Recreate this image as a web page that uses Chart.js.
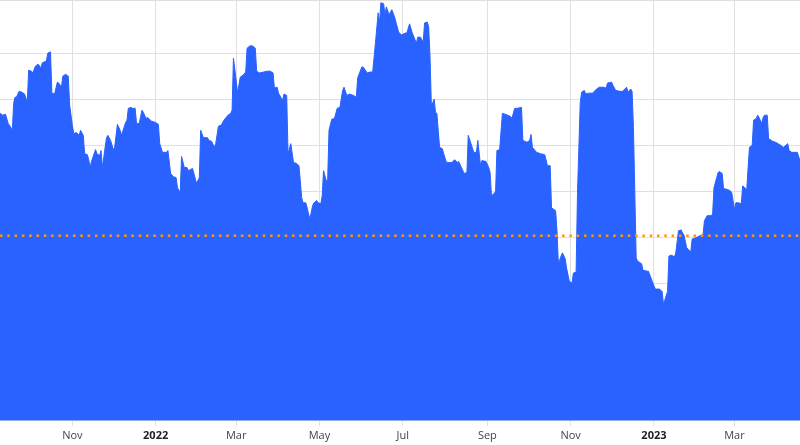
<!DOCTYPE html>
<html>
<head>
<meta charset="utf-8">
<title>Price area chart</title>
<script src="https://cdn.jsdelivr.net/npm/chart.js@4"></script>
<style>
  html, body { margin: 0; padding: 0; background: #ffffff; }
  #chart { display: block; }
</style>
</head>
<body>
<canvas id="chart" width="800" height="445"></canvas>
<script>
/* ── data ─────────────────────────────────────── */
// days counted from startDate (2021-09-09)
var startDate = Date.UTC(2021, 8, 9);
var lastDay = 586;

var days = [
  0, 2, 4, 6, 8, 9, 10, 11, 12, 14, 16, 18, 20, 21, 23, 24, 26, 28, 30, 31,
  34, 35, 37, 38, 40, 42, 43, 45, 46, 48, 50, 51, 53, 54, 56, 58, 59, 61, 62, 64,
  65, 66, 67, 70, 71, 73, 74, 75, 78, 79, 81, 83, 84, 86, 88, 89, 92, 93, 94, 96,
  97, 99,
  100, 102, 104, 105, 107, 108, 111, 114, 116, 117, 119, 122, 123, 125, 127, 129, 130, 132,
  133, 135, 137, 138, 141, 142, 144, 146, 147, 149, 152, 153, 155, 157, 158, 160, 162, 164,
  167, 169, 170, 171, 173, 174, 176, 178, 180, 181, 183, 185, 187, 188, 190, 193, 196,
  198, 200, 201, 203, 204, 207, 208, 210, 211, 213, 215, 217, 219, 221, 222, 224, 225, 226,
  227, 229, 230, 232, 233, 235, 236, 237, 239, 240, 241, 243, 245, 247, 249, 251, 252, 254,
  256, 259, 261, 262, 265, 266, 269, 271, 273, 275, 277, 278, 279, 281, 282, 283, 285, 287,
  289, 292, 294,
  297, 298, 300, 302, 305, 306, 308, 310, 311, 313, 314, 315, 316, 318, 319, 320, 322, 324,
  325, 327, 329, 331, 333, 335, 336, 338, 340, 342, 343, 345, 347, 349, 350, 352, 353, 356,
  358, 359, 360, 363, 364, 366, 368, 370, 372, 374, 375, 377, 379, 382, 383, 386, 388, 389,
  390, 393,
  396, 399, 401, 403, 404, 407, 408, 409, 411, 412, 414, 415, 417, 419, 420, 422, 423, 425,
  426, 428, 429, 431, 434, 437, 439, 442, 444, 445, 448, 449, 451, 454, 456, 459, 460, 462,
  463, 464, 466, 467, 470, 471, 474, 475, 478, 480, 483, 485, 486, 489, 490,
  492, 494, 495, 497, 499, 500, 501, 503, 504, 506, 507, 510, 511, 514, 515, 516, 518, 521,
  522, 523, 525, 526, 527, 529, 530, 533, 535, 536, 538, 539, 541, 543, 544, 547, 548, 549,
  551, 552, 554, 555, 556, 558, 559, 560, 562, 563, 566, 568, 570, 573, 574, 577, 578, 580,
  584, 586
];

var values = [
  6.70, 6.66, 6.68, 6.48, 6.39, 6.31, 6.92, 7.05, 7.05, 7.18, 7.16, 7.12, 6.94, 7.64, 7.62, 7.58, 7.73, 7.77, 7.69, 7.80,
  7.84, 8.01, 8.04, 7.14, 7.12, 7.38, 7.36, 7.27, 7.51, 7.55, 7.51, 6.88, 6.44, 6.26, 6.28, 6.22, 6.33, 6.22, 5.82, 5.80,
  5.69, 5.52, 5.65, 5.91, 5.82, 5.78, 5.89, 5.52, 6.17, 6.22, 6.11, 5.91, 5.96, 6.46, 6.33, 6.22, 6.50, 6.55, 6.81, 6.83,
  6.81, 6.81,
  6.48, 6.48, 6.77, 6.72, 6.59, 6.61, 6.53, 6.50, 6.46, 6.04, 5.85, 5.85, 5.89, 5.39, 5.32, 5.30, 5.08, 4.97,
  5.76, 5.52, 5.52, 5.45, 5.50, 5.39, 5.17, 5.30, 6.33, 6.17, 6.17, 6.11, 6.09, 5.96, 6.04, 6.42, 6.44, 6.55,
  6.66, 6.70, 6.77, 7.90, 7.42, 7.14, 7.49, 7.53, 7.60, 8.12, 8.17, 8.17, 8.12, 7.62, 7.58, 7.60, 7.62,
  7.62, 7.58, 7.25, 7.27, 7.14, 6.98, 7.12, 7.09, 5.82, 6.04, 5.63, 5.61, 5.56, 4.86, 4.75, 4.75, 4.64, 4.51,
  4.40, 4.69, 4.75, 4.80, 4.75, 4.73, 4.90, 5.45, 5.23, 5.23, 6.33, 6.57, 6.59, 6.81, 6.83, 7.20, 7.27, 7.09,
  7.12, 7.09, 7.05, 7.47, 7.71, 7.71, 7.58, 7.60, 7.60, 8.23, 8.89, 8.67, 9.11, 9.09, 8.85, 9.02, 8.85, 8.96,
  8.80, 8.47, 8.41,
  8.45, 8.45, 8.65, 8.45, 8.23, 8.36, 8.36, 8.25, 8.67, 8.69, 8.58, 7.93, 6.85, 7.01, 6.72, 6.70, 5.96, 5.93,
  5.82, 5.63, 5.63, 5.63, 5.69, 5.63, 5.65, 5.52, 5.39, 5.41, 6.22, 6.04, 5.85, 5.85, 6.11, 5.56, 5.67, 5.65,
  5.52, 5.41, 4.90, 4.99, 5.89, 5.91, 6.70, 6.68, 6.66, 6.63, 6.59, 6.81, 6.81, 6.83, 6.11, 6.07, 6.11, 6.24,
  5.96, 5.85,
  5.82, 5.80, 5.56, 5.56, 4.64, 4.58, 4.14, 3.42, 3.59, 3.66, 3.53, 3.33, 3.04, 3.00, 3.22, 3.24, 4.95, 6.92,
  7.16, 7.20, 7.12, 7.14, 7.14, 7.23, 7.27, 7.27, 7.25, 7.36, 7.38, 7.31, 7.20, 7.18, 7.18, 7.27, 7.16, 7.23,
  7.18, 6.39, 3.55, 3.48, 3.42, 3.28, 3.26, 3.26, 3.02, 2.87, 2.87, 2.82, 2.54, 2.82, 3.59,
  3.61, 3.57, 3.66, 4.14, 4.16, 4.09, 4.05, 3.77, 3.74, 3.68, 3.96, 3.99, 4.01, 4.05, 4.05, 4.36, 4.47, 4.47,
  4.51, 5.08, 5.30, 5.41, 5.43, 5.39, 5.06, 5.04, 5.01, 4.97, 4.60, 4.75, 4.75, 4.73, 5.12, 5.04, 5.52, 5.96,
  6.00, 6.55, 6.59, 6.66, 6.61, 6.48, 6.61, 6.66, 6.66, 6.15, 6.09, 6.07, 6.04, 5.98, 5.96, 6.04, 5.89, 5.85,
  5.85, 5.67
];

var thresholdValue = 4.03;

var tickMonths = [[2021, 10], [2022, 0], [2022, 2], [2022, 4], [2022, 6], [2022, 8], [2022, 10], [2023, 0], [2023, 2]];
var tickLabels = ['Nov', '2022', 'Mar', 'May', 'Jul', 'Sep', 'Nov', '2023', 'Mar'];

/* ── chart ────────────────────────────────────── */
var tickDays = tickMonths.map(function (m) {
  return (Date.UTC(m[0], m[1], 1) - startDate) / 86400000;
});

var areaPoints = days.map(function (d, i) { return { x: d, y: values[i] }; });
var thresholdPoints = [{ x: 0, y: thresholdValue }, { x: lastDay, y: thresholdValue }];

function labelFor(v) {
  var i = tickDays.indexOf(v);
  return i < 0 ? '' : tickLabels[i];
}

new Chart(document.getElementById('chart'), {
  type: 'line',
  data: {
    datasets: [
      {
        data: thresholdPoints,
        borderColor: '#ff9800',
        borderWidth: 2.5,
        borderDash: [2.5, 4.8],
        pointRadius: 0,
        fill: false,
        order: 0
      },
      {
        data: areaPoints,
        borderColor: '#2962ff',
        backgroundColor: '#2962ff',
        borderWidth: 1,
        pointRadius: 0,
        tension: 0,
        fill: 'origin',
        order: 1
      }
    ]
  },
  options: {
    responsive: false,
    animation: false,
    layout: { padding: { left: 0, right: 0, top: 0, bottom: 0 } },
    plugins: { legend: { display: false }, tooltip: { enabled: false } },
    scales: {
      x: {
        type: 'linear',
        min: 0,
        max: lastDay,
        afterBuildTicks: function (scale) {
          scale.ticks = tickDays.map(function (d) { return { value: d }; });
        },
        grid: { color: '#e0e0e0', tickLength: 5, tickColor: '#e0e0e0' },
        border: { color: '#e0e0e0' },
        ticks: {
          autoSkip: false,
          maxRotation: 0,
          padding: 3,
          color: function (ctx) {
            return /^\d{4}$/.test(labelFor(ctx.tick.value)) ? '#222' : '#444';
          },
          font: function (ctx) {
            var bold = ctx.tick && /^\d{4}$/.test(labelFor(ctx.tick.value));
            return { family: "'Open Sans', sans-serif", size: 11, weight: bold ? 'bold' : 'normal' };
          },
          callback: function (v) { return labelFor(v); }
        }
      },
      y: {
        min: 0,
        max: 9.17,
        grid: { color: '#e0e0e0', drawTicks: false },
        border: { display: false },
        ticks: { display: false, stepSize: 1 }
      }
    }
  }
});
</script>
</body>
</html>
